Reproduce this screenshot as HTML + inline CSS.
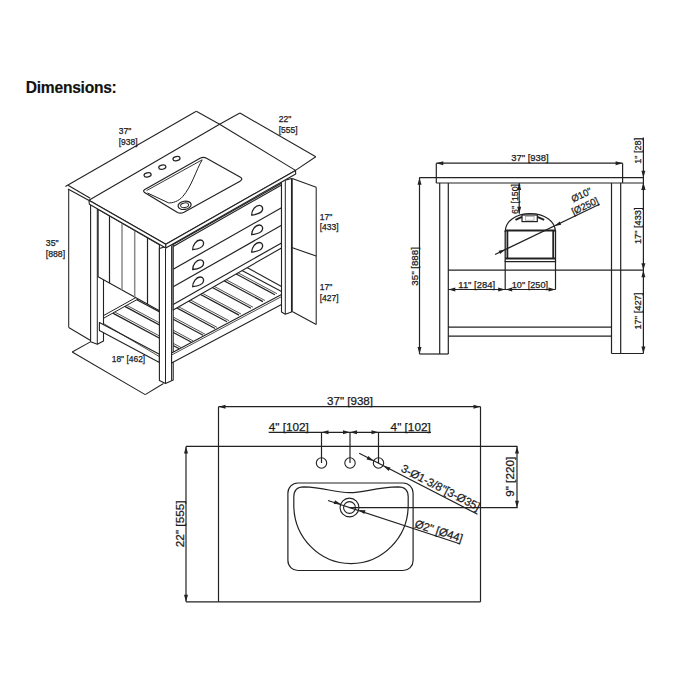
<!DOCTYPE html>
<html><head><meta charset="utf-8"><style>
html,body{margin:0;padding:0;background:#fff;}
svg{display:block;font-family:"Liberation Sans",sans-serif;}
</style></head><body>
<svg width="690" height="690" viewBox="0 0 690 690">
<rect width="690" height="690" fill="#fff"/>
<text x="25.8" y="92.5" font-size="15.6" text-anchor="start" font-weight="bold" fill="#111" stroke="#111" stroke-width="0.15" textLength="91" lengthAdjust="spacing">Dimensions:</text>
<line x1="218.5" y1="406.7" x2="218.5" y2="601.8" stroke="#222" stroke-width="1.2"/>
<line x1="480.5" y1="406.7" x2="480.5" y2="601.8" stroke="#222" stroke-width="1.2"/>
<line x1="186.0" y1="446.4" x2="517.5" y2="446.4" stroke="#222" stroke-width="1.2"/>
<line x1="186.0" y1="601.8" x2="480.5" y2="601.8" stroke="#222" stroke-width="1.2"/>
<line x1="218.5" y1="406.7" x2="480.5" y2="406.7" stroke="#222" stroke-width="1.2"/>
<polygon points="218.5,406.7 225.5,404.7 225.5,408.7" fill="#222"/>
<polygon points="480.5,406.7 473.5,408.7 473.5,404.7" fill="#222"/>
<text x="350.0" y="404.8" font-size="11.6" text-anchor="middle" font-weight="normal" fill="#1a1a1a" stroke="#1a1a1a" stroke-width="0.25" textLength="46" lengthAdjust="spacingAndGlyphs">37" [938]</text>
<line x1="186.0" y1="446.4" x2="186.0" y2="601.8" stroke="#222" stroke-width="1.2"/>
<polygon points="186.0,446.4 188.0,453.4 184.0,453.4" fill="#222"/>
<polygon points="186.0,601.8 184.0,594.8 188.0,594.8" fill="#222"/>
<text x="184.3" y="523.8" font-size="11.6" text-anchor="middle" font-weight="normal" fill="#1a1a1a" stroke="#1a1a1a" stroke-width="0.25" transform="rotate(-90.00 184.3 523.8)" textLength="46.8" lengthAdjust="spacingAndGlyphs">22" [555]</text>
<circle cx="321.5" cy="463.0" r="5.2" fill="none" stroke="#222" stroke-width="1.1"/>
<line x1="321.5" y1="432.3" x2="321.5" y2="463.0" stroke="#222" stroke-width="1.2"/>
<circle cx="350.0" cy="463.0" r="5.2" fill="none" stroke="#222" stroke-width="1.1"/>
<line x1="350.0" y1="432.3" x2="350.0" y2="463.0" stroke="#222" stroke-width="1.2"/>
<circle cx="378.5" cy="463.0" r="5.2" fill="none" stroke="#222" stroke-width="1.1"/>
<line x1="378.5" y1="432.3" x2="378.5" y2="463.0" stroke="#222" stroke-width="1.2"/>
<line x1="268.7" y1="432.3" x2="431.0" y2="432.3" stroke="#222" stroke-width="1.2"/>
<polygon points="321.5,432.3 328.5,430.3 328.5,434.3" fill="#222"/>
<polygon points="350.0,432.3 343.0,434.3 343.0,430.3" fill="#222"/>
<polygon points="350.0,432.3 357.0,430.3 357.0,434.3" fill="#222"/>
<polygon points="378.5,432.3 371.5,434.3 371.5,430.3" fill="#222"/>
<text x="268.7" y="430.9" font-size="11.6" text-anchor="start" font-weight="normal" fill="#1a1a1a" stroke="#1a1a1a" stroke-width="0.25" textLength="40.2" lengthAdjust="spacingAndGlyphs">4" [102]</text>
<text x="430.8" y="430.9" font-size="11.6" text-anchor="end" font-weight="normal" fill="#1a1a1a" stroke="#1a1a1a" stroke-width="0.25" textLength="40.2" lengthAdjust="spacingAndGlyphs">4" [102]</text>
<line x1="517.0" y1="446.4" x2="517.0" y2="507.7" stroke="#222" stroke-width="1.2"/>
<polygon points="517.0,446.4 519.0,453.4 515.0,453.4" fill="#222"/>
<polygon points="517.0,507.7 515.0,500.7 519.0,500.7" fill="#222"/>
<line x1="349.5" y1="507.7" x2="517.5" y2="507.7" stroke="#222" stroke-width="1.2"/>
<text x="514.4" y="476.8" font-size="11.6" text-anchor="middle" font-weight="normal" fill="#1a1a1a" stroke="#1a1a1a" stroke-width="0.25" transform="rotate(-90.00 514.4 476.8)" textLength="40" lengthAdjust="spacingAndGlyphs">9" [220]</text>
<rect x="287.9" y="483.0" width="125.2" height="87.5" rx="10" fill="none" stroke="#222" stroke-width="1.2"/>
<path d="M293.8,505 L293.8,496.8 Q293.8,486.8 303.8,486.8 C325,487.5 335,492.7 349.5,492.7 C364,492.7 375,487.5 398.2,486.8 Q408.2,486.8 408.2,496.8 L408.2,505 A57.2,58.6 0 0 1 293.8,505 Z" fill="none" stroke="#222" stroke-width="1.2"/>
<circle cx="349.5" cy="507.5" r="9.4" fill="none" stroke="#222" stroke-width="1.1"/>
<circle cx="349.5" cy="507.5" r="5.9" fill="none" stroke="#222" stroke-width="1.1"/>
<line x1="328.0" y1="500.5" x2="459.7" y2="543.7" stroke="#222" stroke-width="1.2"/>
<polygon points="341.0,504.3 333.7,504.0 335.0,500.2" fill="#222"/>
<polygon points="358.3,509.9 365.6,510.2 364.3,514.0" fill="#222"/>
<text x="413.9" y="526.9" font-size="11.3" text-anchor="start" font-weight="normal" fill="#1a1a1a" stroke="#1a1a1a" stroke-width="0.25" transform="rotate(18.16 413.9 526.9)">Ø2" [Ø44]</text>
<line x1="359.2" y1="453.3" x2="477.5" y2="514.2" stroke="#222" stroke-width="1.2"/>
<polygon points="373.6,461.0 366.5,459.6 368.3,456.0" fill="#222"/>
<polygon points="383.4,466.0 390.5,467.4 388.7,471.0" fill="#222"/>
<text x="400.2" y="471.1" font-size="11.4" text-anchor="start" font-weight="normal" fill="#1a1a1a" stroke="#1a1a1a" stroke-width="0.25" transform="rotate(27.24 400.2 471.1)">3-Ø1-3/8"[3-Ø35]</text>
<line x1="436.3" y1="163.2" x2="622.6" y2="163.2" stroke="#222" stroke-width="1.2"/>
<polygon points="436.3,163.2 443.3,161.2 443.3,165.2" fill="#222"/>
<polygon points="622.6,163.2 615.6,165.2 615.6,161.2" fill="#222"/>
<text x="530.0" y="160.8" font-size="9.8" text-anchor="middle" font-weight="normal" fill="#1a1a1a" stroke="#1a1a1a" stroke-width="0.25" textLength="37.5" lengthAdjust="spacingAndGlyphs">37" [938]</text>
<line x1="436.3" y1="163.2" x2="436.3" y2="183.0" stroke="#222" stroke-width="1.2"/>
<line x1="622.6" y1="163.2" x2="622.6" y2="183.0" stroke="#222" stroke-width="1.2"/>
<line x1="419.2" y1="177.7" x2="643.6" y2="177.7" stroke="#222" stroke-width="1.2"/>
<line x1="436.3" y1="183.0" x2="643.6" y2="183.0" stroke="#222" stroke-width="1.2"/>
<line x1="419.5" y1="177.7" x2="419.5" y2="354.0" stroke="#222" stroke-width="1.2"/>
<polygon points="419.5,177.7 421.5,184.7 417.5,184.7" fill="#222"/>
<polygon points="419.5,354.0 417.5,347.0 421.5,347.0" fill="#222"/>
<text x="418.3" y="266.4" font-size="9.8" text-anchor="middle" font-weight="normal" fill="#1a1a1a" stroke="#1a1a1a" stroke-width="0.25" transform="rotate(-90.00 418.3 266.4)" textLength="38.5" lengthAdjust="spacingAndGlyphs">35" [888]</text>
<line x1="439.7" y1="183.0" x2="439.7" y2="354.0" stroke="#222" stroke-width="1.2"/>
<line x1="448.3" y1="183.0" x2="448.3" y2="354.0" stroke="#222" stroke-width="1.2"/>
<line x1="419.5" y1="354.0" x2="448.3" y2="354.0" stroke="#222" stroke-width="1.2"/>
<line x1="611.5" y1="183.0" x2="611.5" y2="353.5" stroke="#222" stroke-width="1.2"/>
<line x1="620.7" y1="183.0" x2="620.7" y2="353.5" stroke="#222" stroke-width="1.2"/>
<line x1="611.5" y1="353.5" x2="643.6" y2="353.5" stroke="#222" stroke-width="1.2"/>
<line x1="448.3" y1="270.2" x2="643.6" y2="270.2" stroke="#222" stroke-width="1.2"/>
<line x1="448.3" y1="327.2" x2="611.5" y2="327.2" stroke="#222" stroke-width="1.2"/>
<line x1="448.3" y1="336.2" x2="611.5" y2="336.2" stroke="#222" stroke-width="1.2"/>
<line x1="643.4" y1="137.4" x2="643.4" y2="353.5" stroke="#222" stroke-width="1.2"/>
<polygon points="643.4,177.7 641.4,170.7 645.4,170.7" fill="#222"/>
<polygon points="643.4,183.0 645.4,190.0 641.4,190.0" fill="#222"/>
<polygon points="643.4,270.2 641.4,263.2 645.4,263.2" fill="#222"/>
<polygon points="643.4,270.2 645.4,277.2 641.4,277.2" fill="#222"/>
<polygon points="643.4,353.5 641.4,346.5 645.4,346.5" fill="#222"/>
<polygon points="643.4,183.0 645.4,190.0 641.4,190.0" fill="#222"/>
<text x="640.8" y="150.8" font-size="9.8" text-anchor="middle" font-weight="normal" fill="#1a1a1a" stroke="#1a1a1a" stroke-width="0.25" transform="rotate(-90.00 640.8 150.8)" textLength="26.1" lengthAdjust="spacingAndGlyphs">1" [28]</text>
<text x="640.9" y="225.8" font-size="9.8" text-anchor="middle" font-weight="normal" fill="#1a1a1a" stroke="#1a1a1a" stroke-width="0.25" transform="rotate(-90.00 640.9 225.8)" textLength="36.5" lengthAdjust="spacingAndGlyphs">17" [433]</text>
<text x="640.9" y="311.1" font-size="9.8" text-anchor="middle" font-weight="normal" fill="#1a1a1a" stroke="#1a1a1a" stroke-width="0.25" transform="rotate(-90.00 640.9 311.1)" textLength="37" lengthAdjust="spacingAndGlyphs">17" [427]</text>
<line x1="519.2" y1="183.0" x2="519.2" y2="213.8" stroke="#222" stroke-width="1.2"/>
<polygon points="519.2,183.0 521.2,190.0 517.2,190.0" fill="#222"/>
<polygon points="519.2,213.8 517.2,206.8 521.2,206.8" fill="#222"/>
<text x="517.8" y="199.0" font-size="9.8" text-anchor="middle" font-weight="normal" fill="#1a1a1a" stroke="#1a1a1a" stroke-width="0.25" transform="rotate(-90.00 517.8 199.0)" textLength="30" lengthAdjust="spacingAndGlyphs">6" [150]</text>
<path d="M505.2,232 C505.2,221 516,213.6 530.2,213.6 C544.4,213.6 555.5,221 555.5,232" fill="none" stroke="#222" stroke-width="1.2"/>
<line x1="505.2" y1="230.4" x2="505.2" y2="262.0" stroke="#222" stroke-width="1.3"/>
<line x1="555.5" y1="230.4" x2="555.5" y2="262.0" stroke="#222" stroke-width="1.3"/>
<line x1="505.2" y1="230.6" x2="555.5" y2="230.6" stroke="#222" stroke-width="2.0"/>
<line x1="505.2" y1="258.6" x2="555.5" y2="258.6" stroke="#222" stroke-width="2.0"/>
<line x1="505.2" y1="261.6" x2="555.5" y2="261.6" stroke="#222" stroke-width="1.1"/>
<line x1="507.4" y1="231.0" x2="507.4" y2="258.0" stroke="#222" stroke-width="1.8"/>
<line x1="553.2" y1="231.0" x2="553.2" y2="258.0" stroke="#222" stroke-width="1.8"/>
<rect x="522" y="215" width="15.3" height="6.6" fill="#fff" stroke="#222" stroke-width="1.2"/>
<rect x="525.6" y="216.4" width="8.4" height="3.8" fill="none" stroke="#999" stroke-width="0.7"/>
<line x1="515.5" y1="219.8" x2="522.0" y2="216.9" stroke="#222" stroke-width="2.0"/>
<line x1="537.3" y1="216.9" x2="544.2" y2="219.8" stroke="#222" stroke-width="2.0"/>
<polygon points="505.2,249.6 500.1,254.0 498.6,250.8" fill="#222"/>
<polygon points="554.6,225.9 559.7,221.5 561.2,224.7" fill="#222"/>
<line x1="505.2" y1="260.9" x2="505.2" y2="289.5" stroke="#222" stroke-width="1.2"/>
<line x1="555.5" y1="260.9" x2="555.5" y2="289.5" stroke="#222" stroke-width="1.2"/>
<line x1="448.3" y1="289.5" x2="555.5" y2="289.5" stroke="#222" stroke-width="1.2"/>
<polygon points="448.3,289.5 455.3,287.5 455.3,291.5" fill="#222"/>
<polygon points="505.2,289.5 498.2,291.5 498.2,287.5" fill="#222"/>
<polygon points="505.2,289.5 512.2,287.5 512.2,291.5" fill="#222"/>
<polygon points="555.5,289.5 548.5,291.5 548.5,287.5" fill="#222"/>
<text x="476.7" y="287.8" font-size="9.8" text-anchor="middle" font-weight="normal" fill="#1a1a1a" stroke="#1a1a1a" stroke-width="0.25" textLength="36.7" lengthAdjust="spacingAndGlyphs">11" [284]</text>
<text x="529.9" y="287.8" font-size="9.8" text-anchor="middle" font-weight="normal" fill="#1a1a1a" stroke="#1a1a1a" stroke-width="0.25" textLength="36.3" lengthAdjust="spacingAndGlyphs">10" [250]</text>
<line x1="495.0" y1="254.5" x2="599.5" y2="204.2" stroke="#222" stroke-width="1.2"/>
<text x="573.4" y="215.1" font-size="9.5" text-anchor="start" font-weight="normal" fill="#1a1a1a" stroke="#1a1a1a" stroke-width="0.25" transform="rotate(-25.45 573.4 215.1)" textLength="28.5" lengthAdjust="spacingAndGlyphs">[Ø250]</text>
<text x="573.2" y="202.4" font-size="9.5" text-anchor="start" font-weight="normal" fill="#1a1a1a" stroke="#1a1a1a" stroke-width="0.25" transform="rotate(-25.45 573.2 202.4)">Ø10"</text>
<line x1="65.4" y1="186.5" x2="196.3" y2="111.3" stroke="#222" stroke-width="1.05"/>
<line x1="196.3" y1="111.3" x2="219.6" y2="124.3" stroke="#222" stroke-width="1.05"/>
<line x1="219.6" y1="124.3" x2="239.9" y2="113.0" stroke="#222" stroke-width="1.05"/>
<line x1="239.9" y1="113.0" x2="315.8" y2="156.7" stroke="#222" stroke-width="1.05"/>
<line x1="315.8" y1="156.7" x2="295.5" y2="170.4" stroke="#222" stroke-width="1.05"/>
<line x1="68.0" y1="185.2" x2="90.2" y2="198.2" stroke="#222" stroke-width="1.05"/>
<line x1="68.0" y1="189.0" x2="88.6" y2="200.2" stroke="#222" stroke-width="1.05"/>
<line x1="68.7" y1="189.0" x2="68.7" y2="327.5" stroke="#222" stroke-width="1.05"/>
<line x1="68.7" y1="327.5" x2="90.6" y2="340.5" stroke="#222" stroke-width="1.05"/>
<text x="118.7" y="134.2" font-size="8.5" text-anchor="start" font-weight="normal" fill="#1a1a1a" stroke="#1a1a1a" stroke-width="0.25">37"</text>
<text x="118.7" y="144.6" font-size="8.5" text-anchor="start" font-weight="normal" fill="#1a1a1a" stroke="#1a1a1a" stroke-width="0.25">[938]</text>
<text x="278.7" y="121.9" font-size="8.5" text-anchor="start" font-weight="normal" fill="#1a1a1a" stroke="#1a1a1a" stroke-width="0.25">22"</text>
<text x="278.7" y="133.2" font-size="8.5" text-anchor="start" font-weight="normal" fill="#1a1a1a" stroke="#1a1a1a" stroke-width="0.25">[555]</text>
<text x="45.8" y="246.3" font-size="8.7" text-anchor="start" font-weight="normal" fill="#1a1a1a" stroke="#1a1a1a" stroke-width="0.25">35"</text>
<text x="45.8" y="256.6" font-size="8.7" text-anchor="start" font-weight="normal" fill="#1a1a1a" stroke="#1a1a1a" stroke-width="0.25">[888]</text>
<text x="319.7" y="219.9" font-size="8.5" text-anchor="start" font-weight="normal" fill="#1a1a1a" stroke="#1a1a1a" stroke-width="0.25">17"</text>
<text x="319.7" y="230.3" font-size="8.5" text-anchor="start" font-weight="normal" fill="#1a1a1a" stroke="#1a1a1a" stroke-width="0.25">[433]</text>
<text x="319.7" y="290.1" font-size="8.5" text-anchor="start" font-weight="normal" fill="#1a1a1a" stroke="#1a1a1a" stroke-width="0.25">17"</text>
<text x="319.7" y="300.5" font-size="8.5" text-anchor="start" font-weight="normal" fill="#1a1a1a" stroke="#1a1a1a" stroke-width="0.25">[427]</text>
<line x1="90.4" y1="341.9" x2="72.2" y2="352.0" stroke="#222" stroke-width="1.05"/>
<line x1="72.2" y1="352.0" x2="145.2" y2="394.6" stroke="#222" stroke-width="1.05"/>
<line x1="145.2" y1="394.6" x2="163.5" y2="383.5" stroke="#222" stroke-width="1.05"/>
<text x="111.7" y="362.2" font-size="8.8" text-anchor="start" font-weight="normal" fill="#1a1a1a" stroke="#1a1a1a" stroke-width="0.25" textLength="33.5" lengthAdjust="spacingAndGlyphs">18" [462]</text>
<line x1="292.2" y1="178.5" x2="316.2" y2="187.2" stroke="#222" stroke-width="1.05"/>
<line x1="316.2" y1="187.2" x2="316.2" y2="324.5" stroke="#222" stroke-width="1.05"/>
<line x1="292.2" y1="311.5" x2="316.2" y2="324.5" stroke="#222" stroke-width="1.05"/>
<line x1="291.7" y1="247.5" x2="316.2" y2="256.1" stroke="#222" stroke-width="1.05"/>
<line x1="292.2" y1="178.5" x2="292.2" y2="311.5" stroke="#222" stroke-width="1.05"/>
<line x1="103.7" y1="315.5" x2="220.0" y2="250.5" stroke="#222" stroke-width="1.0"/>
<line x1="103.7" y1="318.2" x2="220.0" y2="253.2" stroke="#222" stroke-width="1.0"/>
<line x1="241.0" y1="270.0" x2="281.5" y2="291.5" stroke="#222" stroke-width="1.1"/>
<line x1="246.0" y1="267.0" x2="281.5" y2="286.5" stroke="#222" stroke-width="1.1"/>
<line x1="112.8" y1="313.1" x2="179.2" y2="348.7" stroke="#222" stroke-width="1.25"/>
<line x1="114.8" y1="312.0" x2="181.2" y2="347.6" stroke="#555" stroke-width="1.0"/>
<line x1="124.8" y1="306.4" x2="191.1" y2="342.0" stroke="#222" stroke-width="1.25"/>
<line x1="126.8" y1="305.3" x2="193.1" y2="340.9" stroke="#555" stroke-width="1.0"/>
<line x1="136.8" y1="299.7" x2="203.1" y2="335.3" stroke="#222" stroke-width="1.25"/>
<line x1="138.8" y1="298.6" x2="205.1" y2="334.2" stroke="#555" stroke-width="1.0"/>
<line x1="148.8" y1="292.9" x2="215.1" y2="328.5" stroke="#222" stroke-width="1.25"/>
<line x1="150.8" y1="291.8" x2="217.1" y2="327.4" stroke="#555" stroke-width="1.0"/>
<line x1="160.8" y1="286.2" x2="227.0" y2="321.8" stroke="#222" stroke-width="1.25"/>
<line x1="162.8" y1="285.1" x2="229.0" y2="320.7" stroke="#555" stroke-width="1.0"/>
<line x1="172.8" y1="279.5" x2="239.0" y2="315.1" stroke="#222" stroke-width="1.25"/>
<line x1="174.8" y1="278.4" x2="241.0" y2="314.0" stroke="#555" stroke-width="1.0"/>
<line x1="184.8" y1="272.8" x2="251.0" y2="308.3" stroke="#222" stroke-width="1.25"/>
<line x1="186.8" y1="271.7" x2="253.0" y2="307.2" stroke="#555" stroke-width="1.0"/>
<line x1="196.8" y1="266.1" x2="262.9" y2="301.6" stroke="#222" stroke-width="1.25"/>
<line x1="198.8" y1="265.0" x2="264.9" y2="300.5" stroke="#555" stroke-width="1.0"/>
<line x1="208.8" y1="259.3" x2="274.9" y2="294.8" stroke="#222" stroke-width="1.25"/>
<line x1="210.8" y1="258.2" x2="276.9" y2="293.7" stroke="#555" stroke-width="1.0"/>
<polygon points="90.6,204.3 103.5,211.0 103.5,341.0 97.3,344.3 90.6,341.7" fill="#fff" stroke="#222" stroke-width="1.1" stroke-linejoin="round"/>
<line x1="97.3" y1="204.0" x2="97.3" y2="344.3" stroke="#222" stroke-width="1.0"/>
<line x1="98.8" y1="208.0" x2="98.8" y2="277.0" stroke="#222" stroke-width="0.8"/>
<polygon points="98.1,209.3 159.4,244.8 159.4,310.8 98.1,276.8" fill="#fff" stroke="#222" stroke-width="1.1" stroke-linejoin="round"/>
<line x1="109.5" y1="215.9" x2="109.5" y2="283.1" stroke="#222" stroke-width="1.2"/>
<line x1="122.0" y1="223.1" x2="122.0" y2="290.0" stroke="#8a8a8a" stroke-width="1.5"/>
<line x1="134.7" y1="230.5" x2="134.7" y2="297.0" stroke="#8a8a8a" stroke-width="1.5"/>
<line x1="147.5" y1="237.9" x2="147.5" y2="304.1" stroke="#222" stroke-width="1.2"/>
<polygon points="99.4,322.5 159.4,354.3 159.4,362.5 99.4,330.5" fill="#fff" stroke="#222" stroke-width="1.1" stroke-linejoin="round"/>
<line x1="103.5" y1="323.5" x2="159.4" y2="356.6" stroke="#222" stroke-width="0.8"/>
<polygon points="159.4,248.5 173.2,244.4 173.2,380.0 165.5,383.5 159.4,380.5" fill="#fff" stroke="#222" stroke-width="1.1" stroke-linejoin="round"/>
<line x1="165.5" y1="248.5" x2="165.5" y2="383.5" stroke="#222" stroke-width="1.0"/>
<line x1="171.6" y1="246.0" x2="171.6" y2="380.5" stroke="#222" stroke-width="1.0"/>
<polygon points="173.2,244.4 281.5,183.3 281.5,248.0 173.2,309.9" fill="#fff" stroke="#222" stroke-width="1.1" stroke-linejoin="round"/>
<line x1="173.2" y1="246.4" x2="281.5" y2="184.9" stroke="#222" stroke-width="1.1"/>
<line x1="173.2" y1="269.2" x2="281.5" y2="207.7" stroke="#222" stroke-width="1.2"/>
<line x1="173.2" y1="286.8" x2="281.5" y2="225.3" stroke="#222" stroke-width="1.2"/>
<line x1="173.2" y1="304.4" x2="281.5" y2="242.9" stroke="#222" stroke-width="1.2"/>
<path d="M192.7,249.7 C192.5,244.9 196.5,240.0 200.2,240.0 C203.0,240.0 204.2,242.4 203.3,244.9 C202.5,247.4 199.0,248.9 192.7,249.7 Z" fill="none" stroke="#222" stroke-width="1.3"/>
<path d="M192.7,269.5 C192.5,264.7 196.5,259.8 200.2,259.8 C203.0,259.8 204.2,262.2 203.3,264.7 C202.5,267.2 199.0,268.7 192.7,269.5 Z" fill="none" stroke="#222" stroke-width="1.3"/>
<path d="M192.7,286.7 C192.5,281.9 196.5,277.0 200.2,277.0 C203.0,277.0 204.2,279.4 203.3,281.9 C202.5,284.4 199.0,285.9 192.7,286.7 Z" fill="none" stroke="#222" stroke-width="1.3"/>
<path d="M251.7,215.1 C251.5,210.3 255.5,205.4 259.2,205.4 C262.0,205.4 263.2,207.8 262.3,210.3 C261.5,212.8 258.0,214.3 251.7,215.1 Z" fill="none" stroke="#222" stroke-width="1.3"/>
<path d="M251.7,234.7 C251.5,229.9 255.5,225.0 259.2,225.0 C262.0,225.0 263.2,227.4 262.3,229.9 C261.5,232.4 258.0,233.9 251.7,234.7 Z" fill="none" stroke="#222" stroke-width="1.3"/>
<path d="M251.7,252.2 C251.5,247.4 255.5,242.5 259.2,242.5 C262.0,242.5 263.2,244.9 262.3,247.4 C261.5,249.9 258.0,251.4 251.7,252.2 Z" fill="none" stroke="#222" stroke-width="1.3"/>
<polygon points="171.6,352.9 283.4,293.5 283.4,303.6 171.6,363.0" fill="#fff" stroke="#222" stroke-width="1.1" stroke-linejoin="round"/>
<line x1="171.6" y1="355.0" x2="283.4" y2="295.6" stroke="#222" stroke-width="0.8"/>
<polygon points="281.5,181.3 291.5,178.5 291.5,312.0 285.3,314.2 281.5,312.0" fill="#fff" stroke="#222" stroke-width="1.1" stroke-linejoin="round"/>
<line x1="285.3" y1="181.0" x2="285.3" y2="314.2" stroke="#222" stroke-width="1.0"/>
<polygon points="88.9,200.2 165.8,244.3 295.5,170.4 219.6,124.3" fill="#fff" stroke="#222" stroke-width="1.1" stroke-linejoin="round"/>
<polygon points="88.9,200.2 165.8,244.3 165.8,247.9 89.4,204.3" fill="#fff" stroke="#222" stroke-width="1.1" stroke-linejoin="round"/>
<polygon points="165.8,244.3 295.5,170.4 295.7,173.9 165.8,247.9" fill="#fff" stroke="#222" stroke-width="1.1" stroke-linejoin="round"/>
<ellipse cx="147.6" cy="174.9" rx="3.6" ry="2.1" transform="rotate(-12 147.6 174.9)" fill="none" stroke="#222" stroke-width="1.2"/>
<ellipse cx="162.3" cy="167.2" rx="3.6" ry="2.1" transform="rotate(-12 162.3 167.2)" fill="none" stroke="#222" stroke-width="1.2"/>
<ellipse cx="176.5" cy="158.6" rx="3.6" ry="2.1" transform="rotate(-12 176.5 158.6)" fill="none" stroke="#222" stroke-width="1.2"/>
<path d="M144.6,192.6 Q142.5,190.8 144.8,189.4 L200.5,158 Q203.5,156.5 206.5,158.2 L240,177 Q243.7,179 240,181.2 L184,212.3 Q180.6,214 177.5,212.5 Z" fill="none" stroke="#222" stroke-width="1.2"/>
<line x1="146.6" y1="190.6" x2="202.2" y2="159.8" stroke="#222" stroke-width="0.9"/>
<path d="M202.2,159.8 C196,170 192,186 182.6,196.7 C179,201 172,203.5 168.4,202.8 L147.5,193" fill="none" stroke="#222" stroke-width="1.0"/>
<ellipse cx="184.6" cy="205.3" rx="6.6" ry="4.1" transform="rotate(-10 184.6 205.3)" fill="none" stroke="#222" stroke-width="1.2"/>
<ellipse cx="184.6" cy="205.3" rx="4.0" ry="2.3" transform="rotate(-10 184.6 205.3)" fill="none" stroke="#222" stroke-width="1.0"/>
</svg></body></html>
